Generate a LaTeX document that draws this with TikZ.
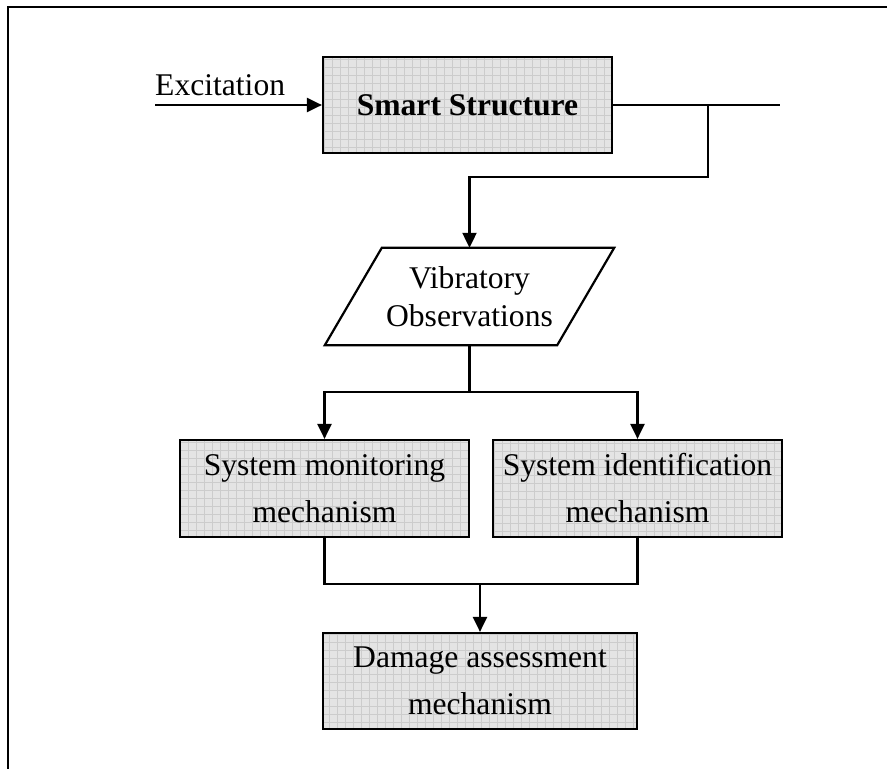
\documentclass[tikz,border=0pt]{standalone}
\usepackage{fontspec}
\setmainfont{Liberation Serif}
\usetikzlibrary{arrows.meta}

\definecolor{boxfill}{RGB}{228,228,228}
\definecolor{boxgrid}{RGB}{204,204,204}

\tikzset{
  wire/.style={line width=2.2pt, draw=black},
  arr/.style={wire, -{Triangle[length=15pt,width=14pt]}},
  shaded/.style={draw=black, line width=2.2pt, fill=boxfill,
    path picture={\draw[boxgrid, line width=0.6pt]
      (path picture bounding box.south west) grid[step=8pt]
      (path picture bounding box.north east);}},
  blockbox/.style={shaded, align=center, inner sep=0pt,
    font=\fontsize{31.6}{47}\selectfont},
  plain/.style={font=\fontsize{31.6}{38}\selectfont, inner sep=0pt}
}

\begin{document}
\begin{tikzpicture}[x=1pt, y=-1pt]
  \useasboundingbox (0,0) rectangle (887,769);

  % outer frame (left and top edges)
  \draw[line width=2.6pt] (8,769) -- (8,7) -- (887,7);

  % input and main structure
  \node[plain, anchor=base west] (exc) at (155,95) {Excitation};
  \coordinate (excin) at (155,105);
  \node[blockbox, minimum width=289pt, minimum height=96pt,
        font=\fontsize{31.6}{38}\selectfont\bfseries] (ss) at (467.5,105) {Smart Structure};

  % observation block (parallelogram)
  \node[plain, align=center, minimum width=289pt, minimum height=97pt] (vib)
    at (469.5,296.5) {Vibratory\\Observations};
  \draw[wire, line join=miter]
    (vib.south west) -- ([xshift=57pt]vib.north west) -- (vib.north east)
    -- ([xshift=-57pt]vib.south east) -- cycle;

  % mechanism blocks
  \node[blockbox, minimum width=289pt, minimum height=97pt] (sm)
    at (324.5,488.5) {System monitoring\\mechanism};
  \node[blockbox, minimum width=289pt, minimum height=97pt] (si)
    at (637.5,488.5) {System identification\\mechanism};
  \node[blockbox, minimum width=314pt, minimum height=96pt] (da)
    at (480,681) {Damage assessment\\mechanism};

  % junction points
  \coordinate (outend) at (780,105);
  \coordinate (tap) at (708,105);
  \coordinate (tapdown) at (708,177);
  \coordinate (split) at (469.5,392);
  \coordinate (join) at (480,584);

  % connectors
  \draw[arr] (excin) -- (ss.west);
  \draw[wire] (ss.east) -- (outend);
  \draw[arr] (tap) -- (tapdown) -| (vib.north);
  \draw[wire] (vib.south) -- (split);
  \draw[arr] (split) -| (sm.north);
  \draw[arr] (split) -| (si.north);
  \draw[wire] (sm.south) |- (join);
  \draw[wire] (si.south) |- (join);
  \draw[arr] (join) -- (da.north);
\end{tikzpicture}
\end{document}
